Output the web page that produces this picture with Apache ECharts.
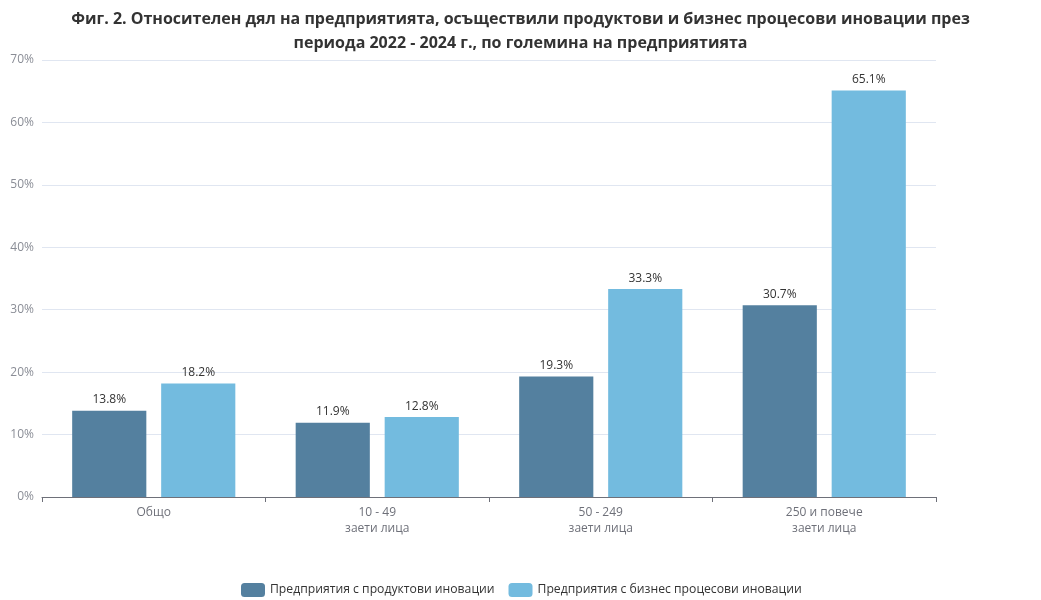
<!DOCTYPE html>
<html><head><meta charset="utf-8">
<script src="https://cdn.jsdelivr.net/npm/echarts@6/dist/echarts.min.js"></script>
<style>html,body{margin:0;padding:0;background:#fff}#c{width:1041px;height:600px}</style>
</head><body><div id="c"></div>
<script>
const categories = ['Общо', '10 - 49\nзаети лица', '50 - 249\nзаети лица', '250 и повече\nзаети лица'];
const seriesNames = ['Предприятия с продуктови иновации', 'Предприятия с бизнес процесови иновации'];
const productInnovation = [13.8, 11.9, 19.3, 30.7];
const processInnovation = [18.2, 12.8, 33.3, 65.1];
const titleText = 'Фиг. 2. Относителен дял на предприятията, осъществили продуктови и бизнес процесови иновации през\nпериода 2022 - 2024 г., по големина на предприятията';

const chart = echarts.init(document.getElementById('c'));
const font = 'Open Sans';
const labelCfg = {show: true, position: 'top', formatter: p => p.value.toFixed(1) + '%', color: '#333', fontSize: 12, fontFamily: font, distance: 5};
chart.setOption({
  animation: false,
  title: {text: titleText, left: 'center', top: 2, textStyle: {fontFamily: font, fontSize: 16, fontWeight: 'bold', color: '#333', lineHeight: 24}},
  legend: {top: 578, left: 236, itemWidth: 24, itemHeight: 14, itemGap: 14, textStyle: {fontFamily: font, fontSize: 12.2, color: '#333'}, data: seriesNames},
  grid: {left: 42, right: 105, top: 60, bottom: 103},
  xAxis: {type: 'category', data: categories,
    axisLine: {lineStyle: {color: '#6E7079'}}, axisTick: {show: true, length: 5},
    axisLabel: {fontFamily: font, fontSize: 12, color: '#6E7079', lineHeight: 16, margin: 8}},
  yAxis: {type: 'value', min: 0, max: 70, interval: 10,
    axisLabel: {formatter: '{value}%', fontFamily: font, fontSize: 12, color: '#8a8d96'},
    splitLine: {lineStyle: {color: '#E0E6F1'}}},
  series: [
    {name: seriesNames[0], type: 'bar', data: productInnovation, itemStyle: {color: '#54809F'}, barGap: '20%', barCategoryGap: '27%', label: labelCfg},
    {name: seriesNames[1], type: 'bar', data: processInnovation, itemStyle: {color: '#73BBDF'}, label: labelCfg}
  ]
});
</script></body></html>
